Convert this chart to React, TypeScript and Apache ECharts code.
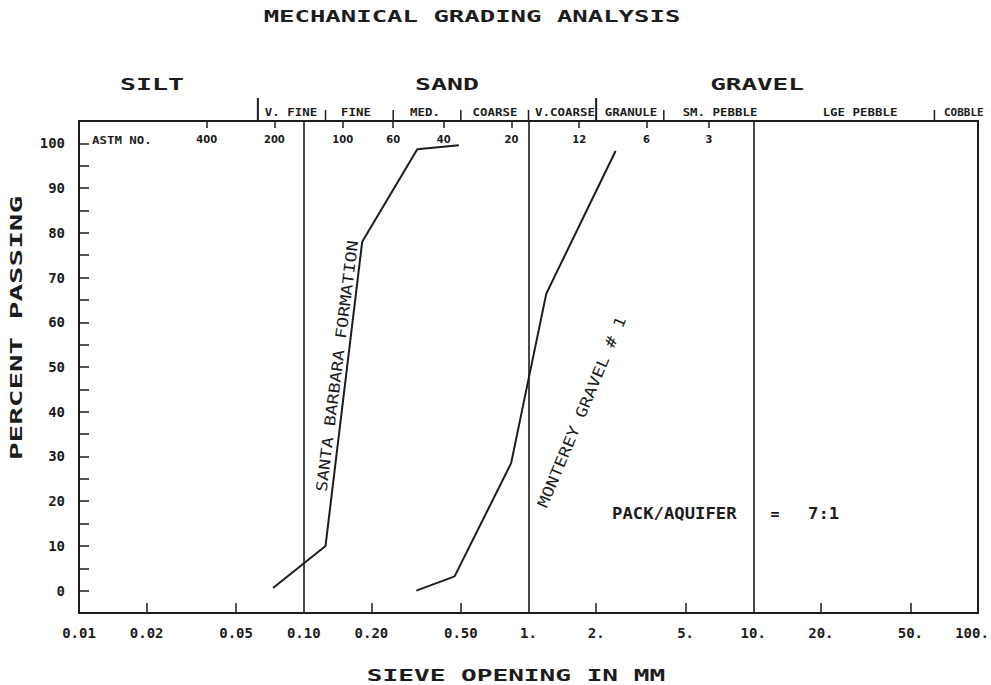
import React, { useEffect, useRef } from 'react';
import * as echarts from 'echarts';

// ---------- data ----------
const xTickValues = [0.01, 0.02, 0.05, 0.1, 0.2, 0.5, 1, 2, 5, 10, 20, 50, 100];
const xTickLabels = ['0.01', '0.02', '0.05', '0.10', '0.20', '0.50', '1.', '2.', '5.', '10.', '20.', '50.', '100.'];
const xMinorTickValues = [0.02, 0.05, 0.2, 0.5, 2, 5, 20, 50];
const decadeLines = [0.1, 1, 10];

const astmSieveNumbers = ['400', '200', '100', '60', '40', '20', '12', '6', '3'];
const astmSieveMm = [0.037, 0.074, 0.149, 0.25, 0.42, 0.84, 1.68, 3.35, 6.35];

const santaBarbaraMm = [0.073, 0.125, 0.182, 0.32, 0.49];
const santaBarbaraPct = [0.6, 10, 78, 98.7, 99.6];

const montereyMm = [0.317, 0.469, 0.837, 1.2, 2.44];
const montereyPct = [0, 3.2, 28.5, 66.4, 98.3];

const shortSeparatorsMm = [0.125, 0.25, 0.5, 1, 4, 64];
const longSeparatorsMm = [0.0625, 2];

const classNames = ['SILT', 'SAND', 'GRAVEL'];
const subclassNames = ['V. FINE', 'FINE', 'MED.', 'COARSE', 'V.COARSE', 'GRANULE', 'SM. PEBBLE', 'LGE PEBBLE', 'COBBLE'];

// ---------- layout (annotation positions, px) ----------
const classLabelX = [152, 447, 757];
const classLabelScale = [1.77, 1.77, 1.73];
const subclassLabelX = [291, 356, 425, 495, 565, 631, 720, 860, 967];

const INK = '#1c1c1c';
const MONO = "'DejaVu Sans Mono', monospace";
const SANS = "'DejaVu Sans', sans-serif";
const L = Math.log10;

function nearestIndex(v: number, values: number[]) {
  let best = 0;
  for (let i = 1; i < values.length; i++) {
    if (Math.abs(L(values[i]) - v) < Math.abs(L(values[best]) - v)) best = i;
  }
  return best;
}

function txt(text: string, x: number, y: number, o: any = {}) {
  return {
    type: 'text',
    x,
    y,
    rotation: o.rotation || 0,
    scaleX: o.scaleX || 1,
    silent: true,
    z: 100,
    style: {
      text,
      fill: INK,
      fontFamily: o.family || MONO,
      fontSize: o.size || 14,
      fontWeight: o.weight || 'bold',
      align: o.align || 'center',
      textAlign: o.align || 'center',
      verticalAlign: 'middle',
      textVerticalAlign: 'middle',
    },
  };
}

export default function App() {
  const ref = useRef<HTMLDivElement>(null);

  useEffect(() => {
    document.body.style.margin = '0';
    const chart = echarts.init(ref.current!, null, { renderer: 'svg' });

    const lineStyle = { color: INK, width: 2 };
    const labelFont = { color: INK, fontFamily: MONO, fontWeight: 'bold', fontSize: 14 };
    const option: any = {
      animation: false,
      backgroundColor: '#ffffff',
      grid: {
        left: 79,
        right: 13,
        top: 121,
        bottom: 72,
        containLabel: false,
        outerBoundsMode: 'none',
        show: true,
        borderColor: INK,
        borderWidth: 2,
        backgroundColor: 'transparent',
      },
      xAxis: [
        {
          type: 'value',
          position: 'bottom',
          min: -2,
          max: 2,
          interval: 1,
          axisLine: { show: true, onZero: false, lineStyle: { color: INK, width: 2 } },
          axisTick: {
            show: true,
            inside: true,
            length: 10,
            customValues: xMinorTickValues.map(L),
            lineStyle: { color: INK, width: 1.5 },
          },
          axisLabel: {
            show: true,
            customValues: xTickValues.map(L),
            formatter: (v: number) => {
              const i = nearestIndex(v, xTickValues);
              return i === xTickValues.length - 1 ? '{last|' + xTickLabels[i] + '}' : xTickLabels[i];
            },
            rich: { last: { ...labelFont, padding: [0, 12, 0, 0] } },
            margin: 13,
            ...labelFont,
          },
          splitLine: { show: false },
        },
        {
          type: 'value',
          position: 'top',
          min: -2,
          max: 2,
          interval: 1,
          axisLine: { show: false, onZero: false },
          axisTick: {
            show: true,
            inside: true,
            length: 7,
            customValues: astmSieveMm.map(L),
            lineStyle: { color: INK, width: 1.5 },
          },
          axisLabel: {
            show: true,
            inside: true,
            customValues: astmSieveMm.map(L),
            formatter: (v: number) => astmSieveNumbers[nearestIndex(v, astmSieveMm)],
            margin: 13,
            color: INK,
            fontFamily: SANS,
            fontWeight: 'bold',
            fontSize: 10,
          },
          splitLine: { show: false },
        },
      ],
      yAxis: {
        type: 'value',
        min: -5,
        max: 105,
        interval: 5,
        axisLine: { show: true, onZero: false, lineStyle: { color: INK, width: 2 } },
        axisTick: { show: true, inside: true, length: 10, lineStyle: { color: INK, width: 1.5 } },
        axisLabel: {
          formatter: (v: number) => (v % 10 === 0 && v >= 0 && v <= 100 ? String(v) : ''),
          margin: 14,
          ...labelFont,
        },
        splitLine: { show: false },
      },
      series: [
        {
          name: 'SANTA BARBARA FORMATION',
          type: 'line',
          xAxisIndex: 0,
          data: santaBarbaraMm.map((m, i) => [L(m), santaBarbaraPct[i]]),
          symbol: 'none',
          showSymbol: false,
          lineStyle,
          itemStyle: { color: INK },
          markLine: {
            silent: true,
            symbol: ['none', 'none'],
            label: { show: false },
            lineStyle: { color: INK, width: 1.6, type: 'solid' },
            data: decadeLines.map((v) => ({ xAxis: L(v) })),
          },
        },
        {
          name: 'MONTEREY GRAVEL # 1',
          type: 'line',
          xAxisIndex: 0,
          data: montereyMm.map((m, i) => [L(m), montereyPct[i]]),
          symbol: 'none',
          showSymbol: false,
          lineStyle,
          itemStyle: { color: INK },
        },
      ],
    };
    chart.setOption(option);

    const px = (mm: number) => chart.convertToPixel({ xAxisIndex: 0 }, L(mm)) as number;
    const topY = 121;
    const graphics: any[] = [];

    shortSeparatorsMm.forEach((mm) => {
      const x = px(mm);
      graphics.push({ type: 'line', silent: true, shape: { x1: x, y1: topY, x2: x, y2: topY - 11 }, style: { stroke: INK, lineWidth: 1.5 } });
    });
    longSeparatorsMm.forEach((mm) => {
      const x = px(mm);
      graphics.push({ type: 'line', silent: true, shape: { x1: x, y1: topY, x2: x, y2: topY - 23 }, style: { stroke: INK, lineWidth: 2 } });
    });

    // titles
    graphics.push(txt('MECHANICAL GRADING ANALYSIS', 472, 17, { size: 15, scaleX: 1.71 }));
    graphics.push(txt('SIEVE OPENING IN MM', 516, 676, { size: 15, scaleX: 1.74 }));
    graphics.push(txt('PERCENT PASSING', 17, 328, { size: 15, scaleX: 1.95, rotation: Math.PI / 2 }));

    classNames.forEach((n, i) => graphics.push(txt(n, classLabelX[i], 85, { size: 15, scaleX: classLabelScale[i] })));
    subclassNames.forEach((n, i) => {
      if (i === subclassNames.length - 1) {
        graphics.push(txt(n, 944, 112, { size: 11, scaleX: 1.0, align: 'left' }));
      } else {
        graphics.push(txt(n, subclassLabelX[i], 112, { size: 11, scaleX: 1.13 }));
      }
    });
    graphics.push(txt('ASTM NO.', 92, 140, { size: 11, scaleX: 1.13, align: 'left' }));

    // curve annotations
    graphics.push(txt('SANTA BARBARA FORMATION', 337, 366, { size: 15, weight: 'normal', scaleX: 1.22, rotation: (82.8 * Math.PI) / 180 }));
    graphics.push(txt('MONTEREY GRAVEL # 1', 582, 412, { size: 15, weight: 'normal', scaleX: 1.2, rotation: (67.2 * Math.PI) / 180 }));

    graphics.push(txt('PACK/AQUIFER', 612, 514, { size: 15, scaleX: 1.15, align: 'left' }));
    graphics.push(txt('=', 775, 514, { size: 15 }));
    graphics.push(txt('7:1', 808, 514, { size: 15, scaleX: 1.15, align: 'left' }));

    chart.setOption({ graphic: graphics });

    return () => chart.dispose();
  }, []);

  return (
    <div
      ref={ref}
      style={{ width: 991, height: 685, position: 'absolute', left: 0, top: 0, background: '#fff' }}
    />
  );
}
